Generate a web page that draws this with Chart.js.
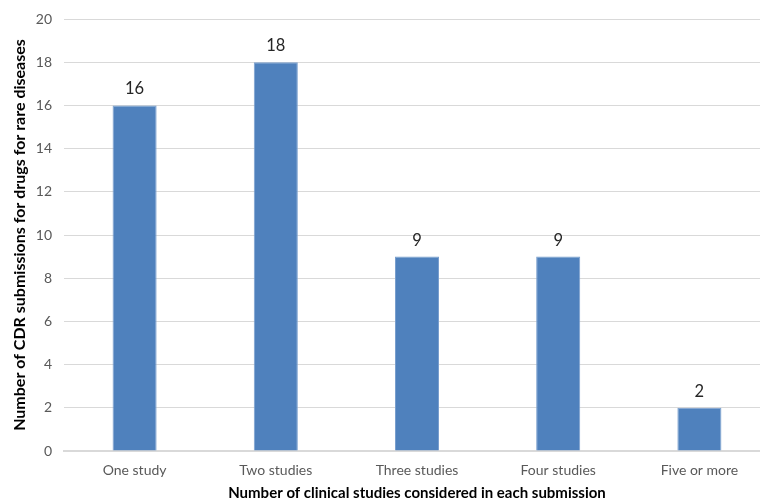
<!DOCTYPE html>
<html>
<head>
<meta charset="utf-8">
<script src="https://cdn.jsdelivr.net/npm/chart.js@4.4.1/dist/chart.umd.min.js"></script>
<style>
  html, body { margin: 0; padding: 0; background: #ffffff; overflow: hidden; }
  #wrap { width: 770px; height: 504px; position: relative; }
</style>
</head>
<body>
<div id="wrap"><canvas id="c" width="770" height="504"></canvas></div>
<script>
// Number of clinical studies per submission
const categories = ["One study", "Two studies", "Three studies", "Four studies", "Five or more"];
// CDR submissions for rare-disease drugs in each group
const submissions = [16, 18, 9, 9, 2];
const yTicks = [0, 2, 4, 6, 8, 10, 12, 14, 16, 18, 20];

const FONT = "Lato, 'Open Sans', sans-serif";

// Writes each bar's value just above it
const valueLabels = {
  id: "valueLabels",
  afterDatasetsDraw(chart) {
    const ctx = chart.ctx;
    const meta = chart.getDatasetMeta(0);
    ctx.save();
    ctx.font = "16.5px " + FONT;
    ctx.fillStyle = "#262626";
    ctx.textAlign = "center";
    ctx.textBaseline = "bottom";
    meta.data.forEach((bar, i) => {
      ctx.fillText(String(chart.data.datasets[0].data[i]), bar.x, bar.y - 8);
    });
    ctx.restore();
  }
};

new Chart(document.getElementById("c"), {
  type: "bar",
  data: {
    labels: categories,
    datasets: [{
      data: submissions,
      backgroundColor: "#4F81BD",
      borderColor: "#7A9FCE",
      borderWidth: 1,
      categoryPercentage: 1.0,
      barPercentage: 0.312
    }]
  },
  options: {
    responsive: false,
    animation: false,
    layout: { padding: { top: 11, right: 0, left: 0, bottom: 0 } },
    plugins: {
      legend: { display: false },
      tooltip: { enabled: false }
    },
    scales: {
      x: {
        grid: { display: false },
        border: { display: true, color: "#D9D9D9", width: 2 },
        ticks: { color: "#595959", font: { family: FONT, size: 14 }, padding: 3, maxRotation: 0 },
        title: {
          display: true,
          text: "Number of clinical studies considered in each submission",
          color: "#000000",
          font: { family: FONT, size: 15, weight: "bold" },
          padding: { top: 4, bottom: 2 }
        },
        afterFit(scale) { scale.height = 53; }
      },
      y: {
        min: 0,
        max: 20,
        afterBuildTicks(scale) { scale.ticks = yTicks.map(v => ({ value: v })); },
        grid: { color: "#D9D9D9", lineWidth: 1, drawTicks: false },
        border: { display: false },
        ticks: { color: "#595959", font: { family: FONT, size: 14, lineHeight: 1 }, padding: 12 },
        title: {
          display: true,
          text: "Number of CDR submissions for drugs for rare diseases",
          color: "#000000",
          font: { family: FONT, size: 16, weight: "bold" },
          padding: { top: 10, bottom: 0 }
        },
        afterFit(scale) { scale.width = 64; }
      }
    }
  },
  plugins: [valueLabels]
});
</script>
</body>
</html>
